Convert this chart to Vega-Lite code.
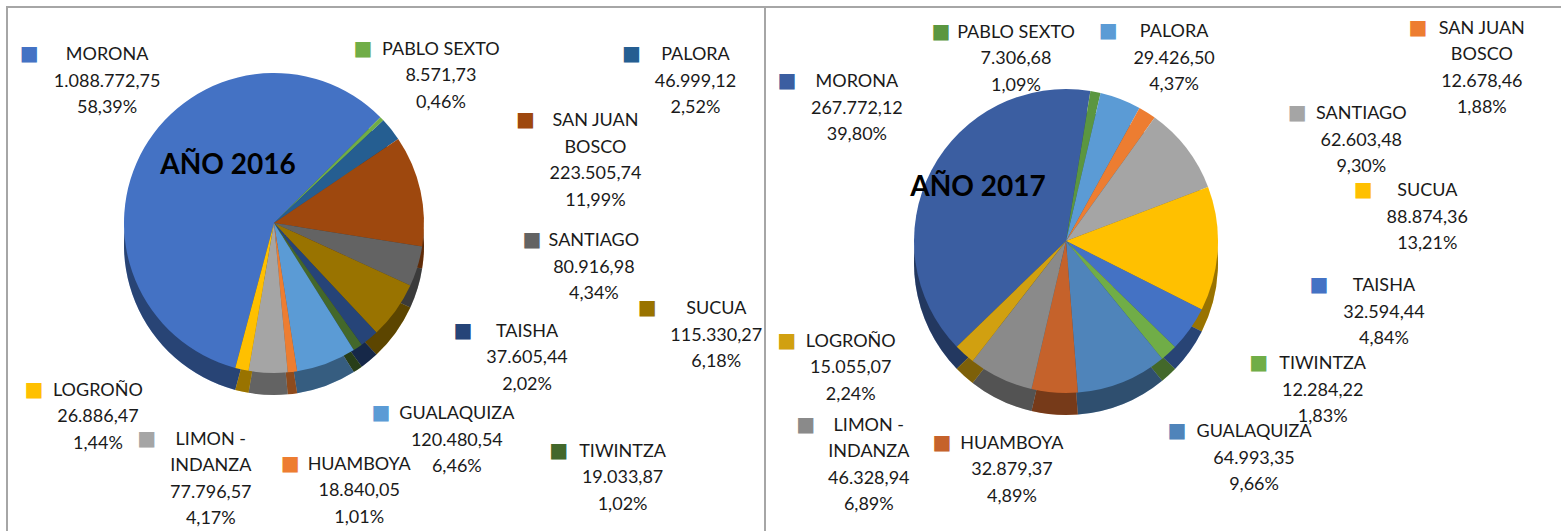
{
  "$schema": "https://vega.github.io/schema/vega-lite/v6.json",
  "padding": {"left": 6, "top": 6, "right": 0, "bottom": 0},
  "bounds": "flush",
  "spacing": 0,
  "config": {
    "view": {"stroke": "#A6A6A6", "strokeWidth": 2},
    "locale": {"number": {"decimal": ",", "thousands": ".", "grouping": [3], "currency": ["$", ""]}},
    "text": {"font": "Lato"}
  },
  "resolve": {"scale": {"theta": "independent", "color": "independent"}},
  "hconcat": [
    {
      "width": 758,
      "height": 526,
      "view": {"stroke": "#A6A6A6", "strokeWidth": 2},
      "data": {"values": [
        {"name": "MORONA", "value": 1088772.75, "pct": 58.39},
        {"name": "PABLO SEXTO", "value": 8571.73, "pct": 0.46},
        {"name": "PALORA", "value": 46999.12, "pct": 2.52},
        {"name": "SAN JUAN BOSCO", "value": 223505.74, "pct": 11.99},
        {"name": "SANTIAGO", "value": 80916.98, "pct": 4.34},
        {"name": "SUCUA", "value": 115330.27, "pct": 6.18},
        {"name": "TAISHA", "value": 37605.44, "pct": 2.02},
        {"name": "TIWINTZA", "value": 19033.87, "pct": 1.02},
        {"name": "GUALAQUIZA", "value": 120480.54, "pct": 6.46},
        {"name": "HUAMBOYA", "value": 18840.05, "pct": 1.01},
        {"name": "LIMON - INDANZA", "value": 77796.57, "pct": 4.17},
        {"name": "LOGROÑO", "value": 26886.47, "pct": 1.44}
      ]},
      "transform": [
        {"window": [{"op": "row_number", "as": "k"}]},
        {"calculate": "replace(replace(datum.name, 'SAN JUAN ', 'SAN JUAN\\n'), 'LIMON - ', 'LIMON -\\n') + '\\n' + format(datum.value, ',.2f') + '\\n' + format(datum.pct, '.2f') + '%'", "as": "label"}
      ],
      "layer": [
        {
          "mark": {"type": "arc", "outerRadius": 150, "x": 267, "y": 238},
          "encoding": {
            "theta": {"field": "value", "type": "quantitative", "stack": true, "scale": {"range": [3.403, 9.686]}},
            "order": {"field": "k", "type": "quantitative"},
            "color": {"field": "name", "type": "nominal", "legend": null, "scale": {"domain": ["MORONA", "PABLO SEXTO", "PALORA", "SAN JUAN BOSCO", "SANTIAGO", "SUCUA", "TAISHA", "TIWINTZA", "GUALAQUIZA", "HUAMBOYA", "LIMON - INDANZA", "LOGROÑO"], "range": ["#4472C4", "#70AD47", "#255E91", "#9E480E", "#636363", "#997300", "#264478", "#43682B", "#5B9BD5", "#ED7D31", "#A5A5A5", "#FFC000"]}}
          }
        },
        {
          "mark": {"type": "arc", "outerRadius": 150, "x": 267, "y": 238, "color": "#000000", "opacity": 0.4},
          "encoding": {
            "theta": {"field": "value", "type": "quantitative", "stack": true},
            "order": {"field": "k", "type": "quantitative"}
          }
        },
        {
          "mark": {"type": "arc", "outerRadius": 150, "x": 267, "y": 216},
          "encoding": {
            "theta": {"field": "value", "type": "quantitative", "stack": true},
            "order": {"field": "k", "type": "quantitative"},
            "color": {"field": "name", "type": "nominal", "legend": null}
          }
        },
        {
          "data": {"values": [{"t": "AÑO 2016"}]},
          "mark": {"type": "text", "x": 267, "y": 216, "dx": -46, "dy": -57, "fontSize": 28, "fontWeight": "bold", "color": "#000000", "align": "center", "baseline": "middle"},
          "encoding": {"text": {"field": "t"}}
        },
        {
          "mark": {
            "type": "text", "x": 267, "y": 216,
            "theta": {"expr": "({'MORONA':5.526,'PABLO SEXTO':0.742,'PALORA':1.174,'SAN JUAN BOSCO':1.239,'SANTIAGO':1.600,'SUCUA':1.744,'TAISHA':1.946,'TIWINTZA':2.133,'GUALAQUIZA':2.354,'HUAMBOYA':2.791,'LIMON - INDANZA':3.437,'LOGROÑO':3.979})[datum.name]"},
            "radius": {"expr": "({'MORONA':243,'PABLO SEXTO':247,'PALORA':457,'SAN JUAN BOSCO':340,'SANTIAGO':320,'SUCUA':449,'TAISHA':272,'TIWINTZA':412,'GUALAQUIZA':258,'HUAMBOYA':248,'LIMON - INDANZA':217,'LOGROÑO':237})[datum.name]"},
            "align": "center", "baseline": "top", "lineBreak": "\n", "fontSize": 18, "lineHeight": 26.5, "color": "#1a1a1a"
          },
          "encoding": {"text": {"field": "label"}}
        },
        {
          "mark": {
            "type": "text", "x": 267, "y": 216, "text": "■", "dy": 8,
            "dx": {"expr": "({'MORONA':-78,'PABLO SEXTO':-78,'PALORA':-64,'SAN JUAN BOSCO':-70,'SANTIAGO':-62,'SUCUA':-69,'TAISHA':-64,'TIWINTZA':-64,'GUALAQUIZA':-76,'HUAMBOYA':-69,'LIMON - INDANZA':-64,'LOGROÑO':-64})[datum.name]"},
            "theta": {"expr": "({'MORONA':5.526,'PABLO SEXTO':0.742,'PALORA':1.174,'SAN JUAN BOSCO':1.239,'SANTIAGO':1.600,'SUCUA':1.744,'TAISHA':1.946,'TIWINTZA':2.133,'GUALAQUIZA':2.354,'HUAMBOYA':2.791,'LIMON - INDANZA':3.437,'LOGROÑO':3.979})[datum.name]"},
            "radius": {"expr": "({'MORONA':243,'PABLO SEXTO':247,'PALORA':457,'SAN JUAN BOSCO':340,'SANTIAGO':320,'SUCUA':449,'TAISHA':272,'TIWINTZA':412,'GUALAQUIZA':258,'HUAMBOYA':248,'LIMON - INDANZA':217,'LOGROÑO':237})[datum.name]"},
            "align": "center", "baseline": "middle", "font": "DejaVu Sans", "fontSize": 20
          },
          "encoding": {"color": {"field": "name", "type": "nominal", "legend": null}}
        }
      ]
    },
    {
      "width": 800,
      "height": 526,
      "view": {"stroke": "#A6A6A6", "strokeWidth": 2},
      "data": {"values": [
        {"name": "MORONA", "value": 267772.12, "pct": 39.80},
        {"name": "PABLO SEXTO", "value": 7306.68, "pct": 1.09},
        {"name": "PALORA", "value": 29426.50, "pct": 4.37},
        {"name": "SAN JUAN BOSCO", "value": 12678.46, "pct": 1.88},
        {"name": "SANTIAGO", "value": 62603.48, "pct": 9.30},
        {"name": "SUCUA", "value": 88874.36, "pct": 13.21},
        {"name": "TAISHA", "value": 32594.44, "pct": 4.84},
        {"name": "TIWINTZA", "value": 12284.22, "pct": 1.83},
        {"name": "GUALAQUIZA", "value": 64993.35, "pct": 9.66},
        {"name": "HUAMBOYA", "value": 32879.37, "pct": 4.89},
        {"name": "LIMON - INDANZA", "value": 46328.94, "pct": 6.89},
        {"name": "LOGROÑO", "value": 15055.07, "pct": 2.24}
      ]},
      "transform": [
        {"window": [{"op": "row_number", "as": "k"}]},
        {"calculate": "replace(replace(datum.name, 'SAN JUAN ', 'SAN JUAN\\n'), 'LIMON - ', 'LIMON -\\n') + '\\n' + format(datum.value, ',.2f') + '\\n' + format(datum.pct, '.2f') + '%'", "as": "label"}
      ],
      "layer": [
        {
          "mark": {"type": "arc", "outerRadius": 152, "x": 301, "y": 256},
          "encoding": {
            "theta": {"field": "value", "type": "quantitative", "stack": true, "scale": {"range": [3.944, 10.227]}},
            "order": {"field": "k", "type": "quantitative"},
            "color": {"field": "name", "type": "nominal", "legend": null, "scale": {"domain": ["MORONA", "PABLO SEXTO", "PALORA", "SAN JUAN BOSCO", "SANTIAGO", "SUCUA", "TAISHA", "TIWINTZA", "GUALAQUIZA", "HUAMBOYA", "LIMON - INDANZA", "LOGROÑO"], "range": ["#3B5EA1", "#5B9640", "#5B9BD5", "#ED7D31", "#A5A5A5", "#FFC000", "#4472C4", "#70AD47", "#4F84BA", "#C5622B", "#8A8A8A", "#D1A010"]}}
          }
        },
        {
          "mark": {"type": "arc", "outerRadius": 152, "x": 301, "y": 256, "color": "#000000", "opacity": 0.4},
          "encoding": {
            "theta": {"field": "value", "type": "quantitative", "stack": true},
            "order": {"field": "k", "type": "quantitative"}
          }
        },
        {
          "mark": {"type": "arc", "outerRadius": 152, "x": 301, "y": 234},
          "encoding": {
            "theta": {"field": "value", "type": "quantitative", "stack": true},
            "order": {"field": "k", "type": "quantitative"},
            "color": {"field": "name", "type": "nominal", "legend": null}
          }
        },
        {
          "data": {"values": [{"t": "AÑO 2017"}]},
          "mark": {"type": "text", "x": 301, "y": 234, "dx": -88, "dy": -53, "fontSize": 28, "fontWeight": "bold", "color": "#000000", "align": "center", "baseline": "middle"},
          "encoding": {"text": {"field": "t"}}
        },
        {
          "mark": {
            "type": "text", "x": 301, "y": 234,
            "theta": {"expr": "({'MORONA':5.388,'PABLO SEXTO':6.057,'PALORA':0.461,'SAN JUAN BOSCO':1.082,'SANTIAGO':1.140,'SUCUA':1.410,'TAISHA':1.685,'TIWINTZA':1.990,'GUALAQUIZA':2.341,'HUAMBOYA':3.414,'LIMON - INDANZA':3.985,'LOGROÑO':4.309})[datum.name]"},
            "radius": {"expr": "({'MORONA':268,'PABLO SEXTO':223,'PALORA':243,'SAN JUAN BOSCO':471,'SANTIAGO':325,'SUCUA':366,'TAISHA':320,'TIWINTZA':281,'GUALAQUIZA':262,'HUAMBOYA':201,'LIMON - INDANZA':264,'LOGROÑO':234})[datum.name]"},
            "align": "center", "baseline": "top", "lineBreak": "\n", "fontSize": 18, "lineHeight": 26.5, "color": "#1a1a1a"
          },
          "encoding": {"text": {"field": "label"}}
        },
        {
          "mark": {
            "type": "text", "x": 301, "y": 234, "text": "■", "dy": 8,
            "dx": {"expr": "({'MORONA':-70,'PABLO SEXTO':-75,'PALORA':-66,'SAN JUAN BOSCO':-64,'SANTIAGO':-64,'SUCUA':-64,'TAISHA':-65,'TIWINTZA':-64,'GUALAQUIZA':-77,'HUAMBOYA':-70,'LIMON - INDANZA':-63,'LOGROÑO':-64})[datum.name]"},
            "theta": {"expr": "({'MORONA':5.388,'PABLO SEXTO':6.057,'PALORA':0.461,'SAN JUAN BOSCO':1.082,'SANTIAGO':1.140,'SUCUA':1.410,'TAISHA':1.685,'TIWINTZA':1.990,'GUALAQUIZA':2.341,'HUAMBOYA':3.414,'LIMON - INDANZA':3.985,'LOGROÑO':4.309})[datum.name]"},
            "radius": {"expr": "({'MORONA':268,'PABLO SEXTO':223,'PALORA':243,'SAN JUAN BOSCO':471,'SANTIAGO':325,'SUCUA':366,'TAISHA':320,'TIWINTZA':281,'GUALAQUIZA':262,'HUAMBOYA':201,'LIMON - INDANZA':264,'LOGROÑO':234})[datum.name]"},
            "align": "center", "baseline": "middle", "font": "DejaVu Sans", "fontSize": 20
          },
          "encoding": {"color": {"field": "name", "type": "nominal", "legend": null}}
        }
      ]
    }
  ]
}
